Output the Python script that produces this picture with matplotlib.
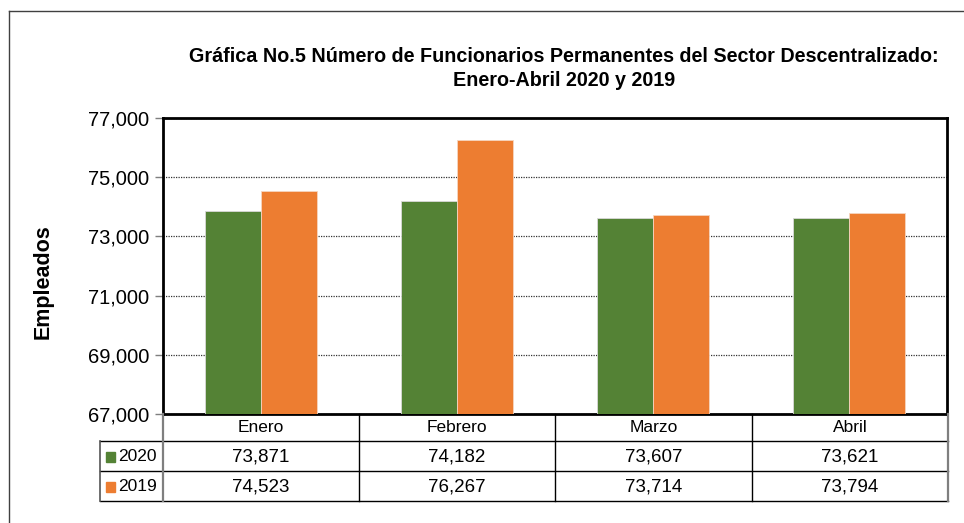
import matplotlib
matplotlib.use("Agg")
import matplotlib.pyplot as plt
from matplotlib.lines import Line2D
from matplotlib.patches import Rectangle

# data
meses = ["Enero", "Febrero", "Marzo", "Abril"]
anios = ["2020", "2019"]
valores_2020 = [73871, 74182, 73607, 73621]
valores_2019 = [74523, 76267, 73714, 73794]
colores = ["#548235", "#ED7D31"]

plt.rcParams['font.family'] = ['Liberation Sans', 'DejaVu Sans']

W, H = 964, 523
fig = plt.figure(figsize=(W / 100, H / 100), dpi=100)

def fx(x):
    return x / W

def fy(y):
    return 1 - y / H

# plot area in pixels
x0, x1, ytop, ybot = 163, 947, 118, 414
ax = fig.add_axes([fx(x0), fy(ybot), fx(x1 - x0), (ybot - ytop) / H])

pos = list(range(len(meses)))
w = 0.286
ax.bar([p - w / 2 for p in pos], valores_2020, width=w, color=colores[0],
       edgecolor="#d9d9d9", linewidth=0.6, zorder=3)
ax.bar([p + w / 2 for p in pos], valores_2019, width=w, color=colores[1],
       edgecolor="#f5d5c0", linewidth=0.6, zorder=3)

ax.set_xlim(-0.5, len(meses) - 0.5)
ax.set_ylim(67000, 77000)
ax.set_yticks(range(67000, 77001, 2000))
ax.set_yticklabels([f"{v:,}" for v in range(67000, 77001, 2000)], fontsize=14.5)
ax.set_xticks([])
ax.yaxis.grid(True, linestyle=(0, (1, 1)), color="#333333", linewidth=0.9, zorder=0)
ax.tick_params(axis="y", length=6, width=1, color="#7f7f7f", pad=4)
for s in ax.spines.values():
    s.set_linewidth(2)
    s.set_color("black")

fig.text(fx(43), fy(282), "Empleados", rotation=90, ha="center", va="center",
         fontsize=15.5, fontweight="bold")

fig.text(fx(564), fy(56), "Gráfica No.5 Número de Funcionarios Permanentes del Sector Descentralizado:",
         ha="center", va="center", fontsize=14.2, fontweight="bold")
fig.text(fx(564), fy(80), "Enero-Abril 2020 y 2019",
         ha="center", va="center", fontsize=14.2, fontweight="bold")

# outer frame (top and left only visible)
fig.add_artist(Line2D([fx(9), fx(964)], [fy(11), fy(11)], color="#404040", lw=1))
fig.add_artist(Line2D([fx(9), fx(9)], [fy(11), fy(523)], color="#404040", lw=1))

# data table below the plot
cols = [163, 359, 555, 752, 948]
rows = [414, 441, 471, 501]
for y in rows[1:]:
    fig.add_artist(Line2D([fx(100), fx(948)], [fy(y), fy(y)], color="black", lw=1))
fig.add_artist(Line2D([fx(100), fx(100)], [fy(441), fy(501)], color="#555555", lw=1.2))
for i, x in enumerate(cols):
    c = "#7f7f7f" if i in (0, len(cols) - 1) else "black"
    lw = 1.6 if i in (0, len(cols) - 1) else 1
    fig.add_artist(Line2D([fx(x), fx(x)], [fy(414), fy(501)], color=c, lw=lw))

for j, m in enumerate(meses):
    cx = (cols[j] + cols[j + 1]) / 2
    fig.text(fx(cx), fy(428), m, ha="center", va="center", fontsize=12.5)
    fig.text(fx(cx), fy(456.5), f"{valores_2020[j]:,}", ha="center", va="center", fontsize=13.5)
    fig.text(fx(cx), fy(486.5), f"{valores_2019[j]:,}", ha="center", va="center", fontsize=13.5)

for k, (lab, yc) in enumerate(zip(anios, [456.5, 486.5])):
    fig.add_artist(Rectangle((fx(106), fy(yc + 5)), 9 / W, 10 / H,
                             color=colores[k], transform=fig.transFigure))
    fig.text(fx(118), fy(yc), lab, ha="left", va="center", fontsize=12.5)

fig.savefig("out.png", dpi=100)
